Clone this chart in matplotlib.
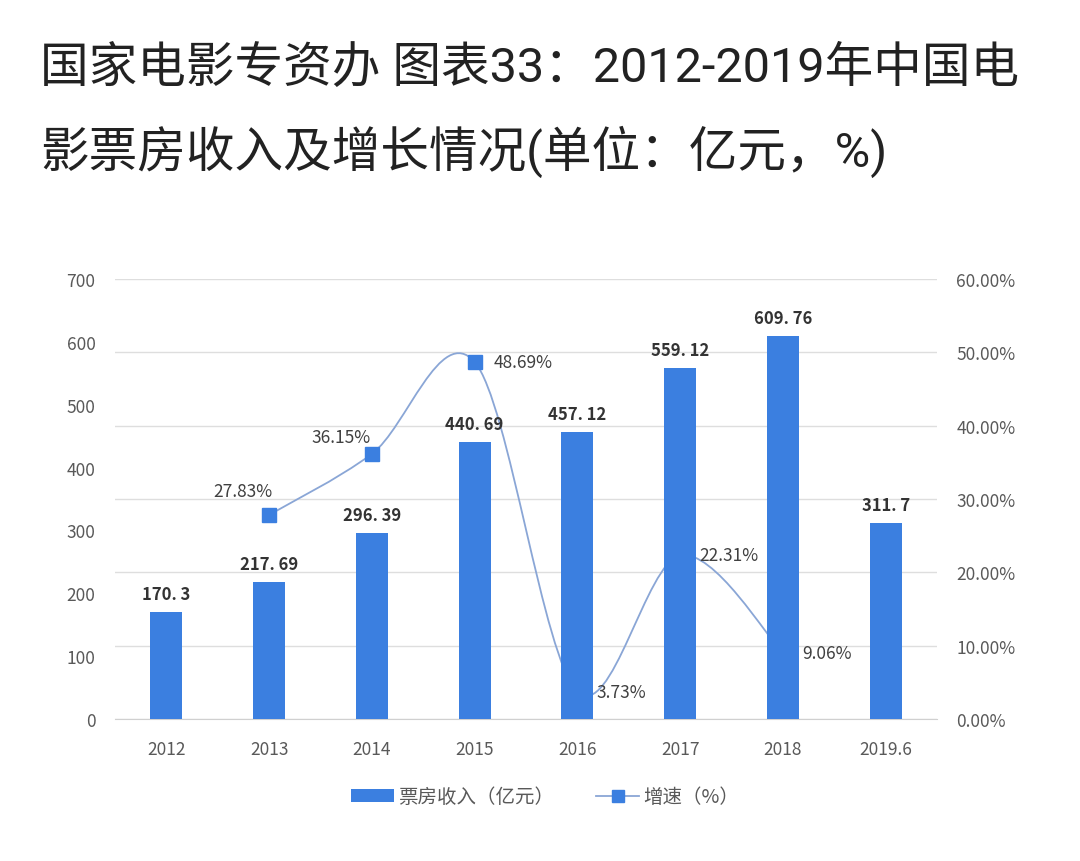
import matplotlib
matplotlib.use("Agg")
import matplotlib.pyplot as plt
import numpy as np
from matplotlib.path import Path
from matplotlib.patches import PathPatch, Patch
from matplotlib.lines import Line2D

plt.rcParams['font.family'] = ['Noto Sans CJK SC', 'DejaVu Sans']

years = ['2012', '2013', '2014', '2015', '2016', '2017', '2018', '2019.6']
box_office = [170.3, 217.69, 296.39, 440.69, 457.12, 559.12, 609.76, 311.7]
growth_years = ['2013', '2014', '2015', '2016', '2017', '2018']
growth = [27.83, 36.15, 48.69, 3.73, 22.31, 9.06]

bar_color = '#3b7fe0'
line_color = '#8aa6d6'
tick_color = '#595959'

fig = plt.figure(figsize=(10.8, 8.62), dpi=100)
title_font = ['Roboto', 'Noto Sans CJK SC', 'DejaVu Sans']
fig.text(40 / 1080, 1 - 69 / 862, '国家电影专资办 图表33：2012-2019年中国电',
         fontsize=35, color='#222222', va='center', ha='left', family=title_font)
fig.text(40 / 1080, 1 - 152 / 862, '影票房收入及增长情况(单位：亿元，%)',
         fontsize=35, color='#222222', va='center', ha='left', family=title_font)

ax = fig.add_axes([115 / 1080, 1 - 720 / 862, 822 / 1080, 440 / 862])
ax2 = ax.twinx()
# line sits behind the bars
ax.set_zorder(2)
ax.patch.set_visible(False)
ax2.set_zorder(1)

x = np.arange(len(years))
ax.bar(x, box_office, width=0.31, color=bar_color, zorder=3)
for xi, v in zip(x, box_office):
    ax.text(xi, v + 14, f'{v:g}'.replace('.', '. '), ha='center', va='bottom',
            fontsize=12, fontweight='bold', color='#333333', zorder=4)

ax.set_xlim(-0.5, len(years) - 0.5)
ax.set_ylim(0, 700)
ax.set_yticks(range(0, 701, 100))
ax.set_xticks(x)
ax.set_xticklabels(years)
ax.tick_params(axis='y', length=0, pad=14, labelsize=12.5, labelcolor=tick_color)
ax.tick_params(axis='x', length=0, pad=15, labelsize=12.5, labelcolor=tick_color)
for s in ['top', 'right', 'left']:
    ax.spines[s].set_visible(False)
ax.spines['bottom'].set_color('#d0d0d0')

# gridlines on the secondary axis so they stay under everything
ax2.set_ylim(0, 60)
ax2.set_yticks(range(0, 61, 10))
ax2.set_yticklabels([f'{t:.2f}%' for t in range(0, 61, 10)])
ax2.tick_params(axis='y', length=0, pad=14, labelsize=12.5, labelcolor=tick_color)
ax2.grid(axis='y', color='#dedede', linewidth=1)
for s in ax2.spines.values():
    s.set_visible(False)

# smoothed line (Catmull-Rom converted to cubic Bezier segments)
gx = np.array([years.index(y) for y in growth_years], dtype=float)
gy = np.array(growth, dtype=float)
pts = np.column_stack([gx, gy])
ext = np.vstack([pts[0], pts, pts[-1]])
verts = [tuple(pts[0])]
codes = [Path.MOVETO]
for i in range(len(pts) - 1):
    p0, p1, p2, p3 = ext[i], ext[i + 1], ext[i + 2], ext[i + 3]
    c1 = p1 + (p2 - p0) / 6
    c2 = p2 - (p3 - p1) / 6
    verts += [tuple(c1), tuple(c2), tuple(p2)]
    codes += [Path.CURVE4] * 3
ax2.add_patch(PathPatch(Path(verts, codes), fill=False, edgecolor=line_color, lw=1.3, zorder=2))
ax2.plot(gx, gy, linestyle='none', marker='s', markersize=10, color=bar_color, zorder=3)

offsets = {'2013': (-19, 17, 'center'), '2014': (-22, 12, 'center'),
           '2015': (14, 0, 'left'), '2016': (14, 0, 'left'),
           '2017': (14, 0, 'left'), '2018': (14, 0, 'left')}
for yr, xi, v in zip(growth_years, gx, gy):
    dx, dy, ha = offsets[yr]
    ax2.annotate(f'{v:.2f}%', (xi, v), xytext=(dx, dy), textcoords='offset points',
                 ha=ha, va='center', fontsize=12.5, color='#404040', zorder=4)

handles = [Patch(facecolor=bar_color, edgecolor='none'),
           Line2D([0], [0], color=line_color, lw=1.3, marker='s', markersize=8,
                  markerfacecolor=bar_color, markeredgecolor=bar_color)]
fig.legend(handles, ['票房收入（亿元）', '增速（%）'], loc='center',
           bbox_to_anchor=(545 / 1080, 1 - 798 / 862), ncol=2, frameon=False,
           fontsize=14, handlelength=2.2, handleheight=0.6, columnspacing=2.2,
           handletextpad=0.2, labelcolor=tick_color)

fig.savefig('out.png', dpi=100, facecolor='white')
